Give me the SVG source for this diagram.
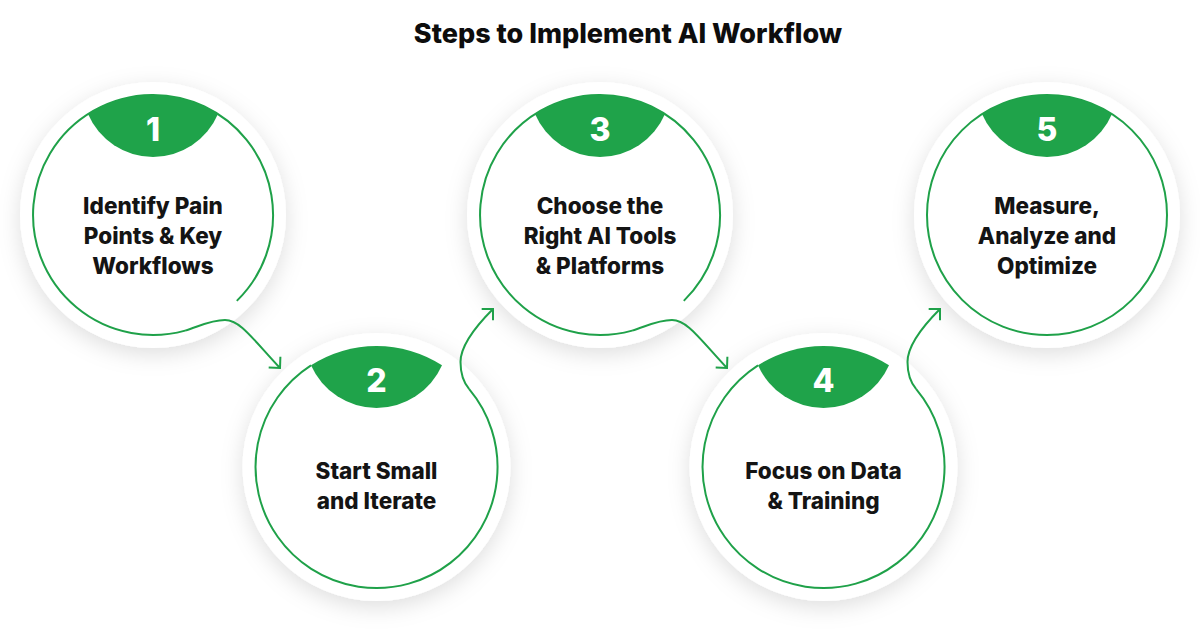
<svg xmlns="http://www.w3.org/2000/svg" width="1200" height="636" viewBox="0 0 1200 636">
  <style>
    .disk { fill: #ffffff; filter: url(#shadow); }
    .ring { fill: none; stroke: #1fa149; stroke-width: 2; }
    .cap { fill: #1fa34a; }
    .num { font-family: Inter, "Liberation Sans", sans-serif; font-weight: 800; font-size: 32px; fill: #ffffff; text-anchor: middle; }
    .lbl { font-family: Inter, "Liberation Sans", sans-serif; font-weight: 800; font-size: 22.5px; fill: #141414; text-anchor: middle; }
    .title { font-family: Inter, "Liberation Sans", sans-serif; font-weight: 800; font-size: 27px; fill: #0d0d0d; text-anchor: middle; }
    .conn { fill: none; stroke: #1fa149; stroke-width: 2; marker-end: url(#arrow); }
  </style>
  <defs>
    <filter id="shadow" x="-30%" y="-30%" width="160%" height="160%">
      <feDropShadow dx="0" dy="6" stdDeviation="11" flood-color="#000000" flood-opacity="0.13"/>
    </filter>
    <marker id="arrow" viewBox="-12 -12 14 24" refX="0" refY="0" markerWidth="14" markerHeight="24" markerUnits="userSpaceOnUse" orient="auto" overflow="visible">
      <path d="M-8,-8 L0,0 L-8,8" fill="none" stroke="#1fa149" stroke-width="2" stroke-linejoin="miter"/>
    </marker>
  </defs>

  <rect width="1200" height="636" fill="#ffffff"/>

  <text class="title" x="628" y="43">Steps to Implement AI Workflow</text>

  <g id="node1">
    <circle class="disk" cx="153" cy="215" r="133"/>
    <path class="ring" d="M236.8,300.9 A120,120 0 1 0 185.1,330.6"/>
    <path class="cap" d="M88,114.1 A120,120 0 0 1 218,114.1 A70.7,70.7 0 0 1 88,114.1 Z"/>
    <text class="num" x="153" y="141">1</text>
    <text class="lbl" x="153" y="214">Identify Pain</text>
    <text class="lbl" x="153" y="244">Points &amp; Key</text>
    <text class="lbl" x="153" y="274">Workflows</text>
  </g>

  <g id="node2">
    <circle class="disk" cx="376.5" cy="467" r="134"/>
    <path class="ring" d="M311,365.3 A121,121 0 1 0 469.2,389.2"/>
    <path class="cap" d="M311,365.3 A121,121 0 0 1 442,365.3 A71.6,71.6 0 0 1 311,365.3 Z"/>
    <text class="num" x="376.5" y="392">2</text>
    <text class="lbl" x="376.5" y="479">Start Small</text>
    <text class="lbl" x="376.5" y="509">and Iterate</text>
  </g>

  <g id="node3">
    <circle class="disk" cx="600" cy="215" r="133"/>
    <path class="ring" d="M683.8,300.9 A120,120 0 1 0 632.1,330.6"/>
    <path class="cap" d="M535,114.1 A120,120 0 0 1 665,114.1 A70.7,70.7 0 0 1 535,114.1 Z"/>
    <text class="num" x="600" y="141">3</text>
    <text class="lbl" x="600" y="214">Choose the</text>
    <text class="lbl" x="600" y="244">Right AI Tools</text>
    <text class="lbl" x="600" y="274">&amp; Platforms</text>
  </g>

  <g id="node4">
    <circle class="disk" cx="823.5" cy="467" r="134"/>
    <path class="ring" d="M758,365.3 A121,121 0 1 0 916.2,389.2"/>
    <path class="cap" d="M758,365.3 A121,121 0 0 1 889,365.3 A71.6,71.6 0 0 1 758,365.3 Z"/>
    <text class="num" x="823.5" y="392">4</text>
    <text class="lbl" x="823.5" y="479">Focus on Data</text>
    <text class="lbl" x="823.5" y="509">&amp; Training</text>
  </g>

  <g id="node5">
    <circle class="disk" cx="1047" cy="215" r="133"/>
    <circle class="ring" cx="1047" cy="215" r="120"/>
    <path class="cap" d="M982,114.1 A120,120 0 0 1 1112,114.1 A70.7,70.7 0 0 1 982,114.1 Z"/>
    <text class="num" x="1047" y="141">5</text>
    <text class="lbl" x="1047" y="214">Measure,</text>
    <text class="lbl" x="1047" y="244">Analyze and</text>
    <text class="lbl" x="1047" y="274">Optimize</text>
  </g>

  <g id="connectors">
    <path class="conn" d="M185.1,330.6 C198,327 210,320 225,320 C240,320 252,338 280,368"/>
    <path class="conn" d="M469.2,389.2 C463.5,382.4 460.5,373 460.5,362 C460.5,345 478,324 493,309"/>
    <path class="conn" d="M632.1,330.6 C645,327 657,320 672,320 C687,320 699,338 727,368"/>
    <path class="conn" d="M916.2,389.2 C910.5,382.4 907.5,373 907.5,362 C907.5,345 925,324 940,309"/>
  </g>
</svg>
